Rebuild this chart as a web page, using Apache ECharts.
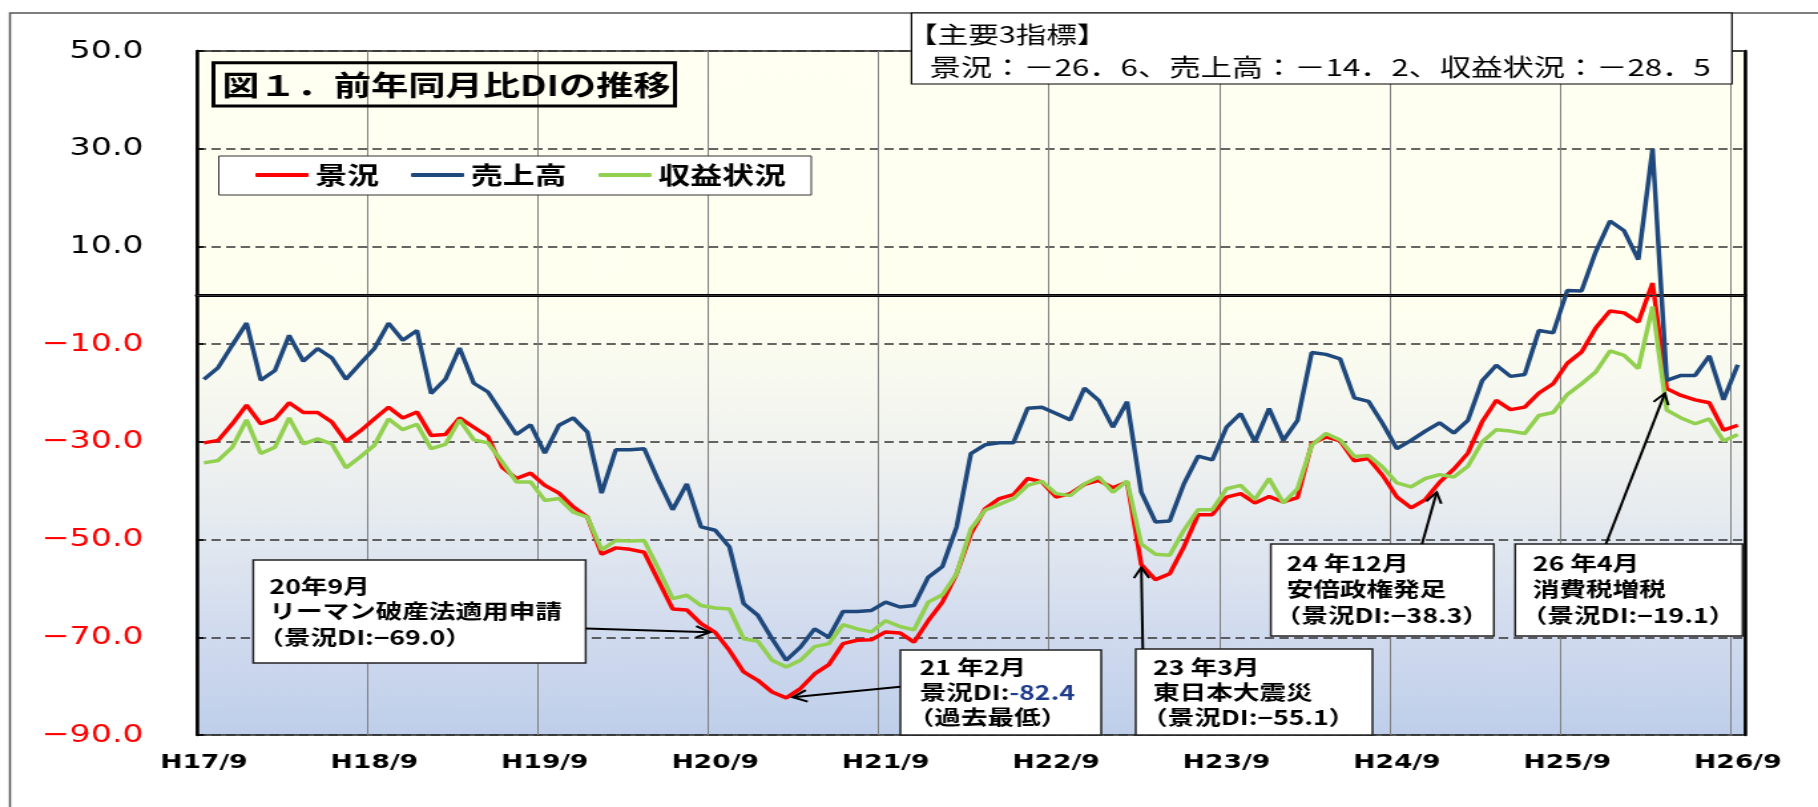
<!DOCTYPE html>
<html><head><meta charset="utf-8">
<script src="https://cdn.jsdelivr.net/npm/echarts@6/dist/echarts.min.js"></script>
<style>
html,body{margin:0;padding:0;background:#fff;overflow:hidden}
#wrap{width:1818px;height:807px;overflow:hidden;position:relative}
#main{width:1367px;height:807px;transform:scaleX(1.329919);transform-origin:0 0}
</style></head>
<body><div id="wrap"><div id="main"></div></div>
<script>
// ---- data ----
const categories = [];
for (let k = 0; k < 109; k++) { const mm = 8 + k; categories.push('H' + (17 + Math.floor(mm / 12)) + '/' + (mm % 12 + 1)); }
const xTickLabels = ['H17/9','H18/9','H19/9','H20/9','H21/9','H22/9','H23/9','H24/9','H25/9','H26/9'];
const yMin = -90, yMax = 50, yStep = 20;
const seriesNames = ['景況','売上高','収益状況'];
const keikyo = [-30.2,-29.7,-26.3,-22.5,-26.3,-25.3,-22.0,-24.0,-24.0,-25.9,-29.9,-27.8,
 -25.3,-22.9,-25.1,-23.9,-28.7,-28.5,-25.1,-27.0,-28.9,-35.2,-37.5,-36.4,
 -38.9,-40.5,-43.3,-45.4,-53.0,-51.7,-52.0,-52.6,-58.4,-64.2,-64.4,-67.2,
 -69.0,-72.7,-77.1,-78.8,-81.2,-82.4,-80.5,-77.5,-75.6,-71.3,-70.6,-70.5,
 -68.9,-69.1,-71.0,-66.6,-62.8,-57.0,-48.8,-43.7,-41.6,-40.8,-37.5,-38.2,
 -41.3,-40.6,-38.7,-37.9,-39.4,-38.2,-55.1,-58.2,-57.0,-51.5,-44.9,-44.9,
 -41.3,-40.6,-42.5,-41.2,-42.3,-41.4,-30.4,-29.0,-29.8,-33.9,-33.4,-36.9,
 -41.3,-43.5,-41.8,-38.3,-35.6,-32.3,-25.9,-21.5,-23.4,-22.9,-20.0,-18.1,
 -13.9,-11.6,-6.7,-3.2,-3.6,-5.5,2.5,-19.1,-20.5,-21.4,-22.0,-27.6,-26.6];
const uriage = [-17.2,-14.8,-10.2,-5.7,-17.4,-15.4,-8.2,-13.5,-10.9,-12.8,-17.2,-14.0,
 -10.9,-5.7,-9.2,-7.2,-20.1,-17.2,-10.8,-18.0,-19.8,-24.2,-28.5,-26.5,
 -32.3,-26.6,-25.1,-28.0,-40.5,-31.6,-31.6,-31.4,-37.9,-43.9,-38.6,-47.4,
 -48.1,-51.5,-63.1,-65.5,-70.3,-74.7,-72.0,-68.3,-70.0,-64.7,-64.7,-64.5,
 -62.8,-63.8,-63.5,-57.7,-55.5,-47.4,-32.4,-30.6,-30.2,-30.2,-23.1,-22.9,
 -24.2,-25.5,-19.0,-21.5,-27.0,-21.8,-40.3,-46.4,-46.2,-38.6,-32.9,-33.7,
 -27.0,-24.2,-30.0,-23.2,-29.7,-25.6,-11.7,-12.1,-13.0,-21.0,-21.7,-26.3,
 -31.4,-29.7,-27.8,-26.1,-28.2,-25.6,-17.5,-14.3,-16.6,-16.2,-7.2,-7.7,
 1.0,0.9,8.9,15.2,13.2,7.3,30.0,-17.4,-16.4,-16.4,-12.4,-21.4,-14.2];
const shueki = [-34.3,-33.8,-31.1,-25.5,-32.4,-31.1,-25.1,-30.4,-29.4,-30.4,-35.3,-33.1,
 -30.7,-25.3,-27.5,-26.4,-31.4,-30.5,-25.5,-29.6,-30.2,-34.1,-38.2,-38.2,
 -42.0,-41.6,-44.4,-45.4,-52.1,-50.2,-50.3,-50.2,-56.0,-62.1,-61.4,-63.5,
 -64.0,-64.2,-70.3,-70.8,-74.7,-76.1,-74.7,-71.9,-71.3,-67.4,-68.3,-68.9,
 -66.6,-67.8,-68.5,-62.8,-61.3,-57.0,-47.8,-44.0,-42.8,-41.6,-38.9,-38.1,
 -40.6,-41.0,-38.6,-37.2,-40.3,-38.0,-50.9,-53.0,-53.2,-48.1,-43.9,-43.9,
 -39.6,-38.9,-41.8,-37.5,-42.5,-39.6,-30.7,-28.3,-29.6,-33.0,-32.8,-35.2,
 -38.4,-39.2,-37.5,-36.7,-37.2,-35.0,-30.0,-27.5,-27.8,-28.3,-24.6,-24.0,
 -20.3,-18.1,-15.7,-11.4,-12.3,-15.0,-2.3,-23.5,-25.1,-26.3,-25.3,-29.8,-28.5];
const titleText = '図１．前年同月比DIの推移';
const infoLines = ['【主要3指標】', '景況：－26．6、売上高：－14．2、収益状況：－28．5'];
const notes = [
  {idx: 36, lines: ['20年9月', 'リーマン破産法適用申請', '（景況DI:−69.0）']},
  {idx: 41, lines: ['21 年2月', '景況DI:', '（過去最低）'], valueText: '-82.4'},
  {idx: 66, lines: ['23 年3月', '東日本大震災', '（景況DI:−55.1）']},
  {idx: 87, lines: ['24 年12月', '安倍政権発足', '（景況DI:−38.3）']},
  {idx: 103, lines: ['26 年4月', '消費税増税', '（景況DI:−19.1）']}
];
// ---- chart ----
const CJK = '"Noto Sans CJK JP", sans-serif';
const isTick = (i, v) => xTickLabels.indexOf(categories[i]) >= 0;
const chart = echarts.init(document.getElementById('main'), null, {renderer: 'canvas'});
const option = {
  animation: false,
  backgroundColor: '#ffffff',
  grid: {left: 148, right: 55, top: 51, bottom: 72, containLabel: false, show: true,
    borderColor: '#222', borderWidth: 1.5,
    backgroundColor: {type: 'linear', x: 0, y: 0, x2: 0, y2: 1, colorStops: [
      {offset: 0, color: '#FFFFF2'}, {offset: 0.38, color: '#FFFFF0'}, {offset: 0.571, color: '#F1F3EF'},
      {offset: 0.714, color: '#E2E8F0'}, {offset: 0.857, color: '#D0DAEE'}, {offset: 1, color: '#BECEEA'}]}},
  legend: {left: 192, top: 163, padding: 0, itemWidth: 40, itemHeight: 4, itemGap: 24, selectedMode: false, z: 10,
    icon: 'roundRect', data: seriesNames, textStyle: {fontFamily: CJK, fontSize: 24, fontWeight: 'bold', color: '#000'}},
  xAxis: {type: 'category', data: categories, boundaryGap: true,
    axisLine: {show: true, lineStyle: {color: '#000', width: 3}},
    axisTick: {show: false},
    axisLabel: {interval: isTick, margin: 18, color: '#000', fontFamily: 'DejaVu Sans', fontWeight: 'bold', fontSize: 20},
    splitLine: {show: true, interval: isTick, lineStyle: {color: '#808080', width: 1}}},
  yAxis: [
    {type: 'value', min: yMin, max: yMax, interval: yStep,
     axisLine: {show: true, lineStyle: {color: '#000', width: 2.5}},
     axisTick: {show: true, inside: true, length: 5, lineStyle: {color: '#000', width: 1.5}},
     axisLabel: {margin: 40, fontFamily: 'DejaVu Sans', fontSize: 25,
       formatter: v => (v < 0 ? '\u2212' : '') + Math.abs(v).toFixed(1),
       color: v => (parseFloat(v) < 0 ? '#FF0000' : '#000000')},
     splitLine: {show: true, lineStyle: {color: '#333', width: 1.5, type: [7, 4]}}},
    {type: 'value', position: 'right', min: yMin, max: yMax, interval: yStep,
     axisLine: {show: true, lineStyle: {color: '#000', width: 2.5}},
     axisTick: {show: false}, axisLabel: {show: false}, splitLine: {show: false}}
  ],
  series: [
    {name: seriesNames[0], type: 'line', data: keikyo, symbol: 'none', z: 3,
     lineStyle: {color: '#FF0000', width: 3.5}, itemStyle: {color: '#FF0000'},
     markLine: {silent: true, symbol: ['none', 'none'], label: {show: false},
       lineStyle: {color: '#333', type: 'solid', width: 1}, data: [{yAxis: 0}]}},
    {name: seriesNames[1], type: 'line', data: uriage, symbol: 'none', z: 3,
     lineStyle: {color: '#1F497D', width: 3.5}, itemStyle: {color: '#1F497D'}},
    {name: seriesNames[2], type: 'line', data: shueki, symbol: 'none', z: 3,
     lineStyle: {color: '#92D050', width: 3.5}, itemStyle: {color: '#92D050'}}
  ]
};
chart.setOption(option);

// ---- annotations ----
function T(x, y, text, size, weight, extra) {
  return {type: 'text', z: 20, style: Object.assign({text: text, x: x, y: y, fill: '#000',
    font: weight + ' ' + size + 'px ' + CJK, fontSize: size, fontWeight: weight, fontFamily: CJK,
    align: 'left', verticalAlign: 'middle', textAlign: 'left', textVerticalAlign: 'middle'}, extra || {})};
}
function R(x, y, w, h, stroke, lw, fill, z) {
  return {type: 'rect', z: z || 15, shape: {x: x, y: y, width: w, height: h},
    style: {fill: fill, stroke: stroke, lineWidth: lw}};
}
function arrow(tail, tip, off) {
  const dx = tip[0] - tail[0], dy = tip[1] - tail[1], L = Math.hypot(dx, dy);
  const ux = dx / L, uy = dy / L, t = [tip[0] - ux * off, tip[1] - uy * off];
  const a = 12, c = Math.cos(0.5), s = Math.sin(0.5);
  const p1 = [t[0] - a * (ux * c - uy * s), t[1] - a * (uy * c + ux * s)];
  const p2 = [t[0] - a * (ux * c + uy * s), t[1] - a * (uy * c - ux * s)];
  return [{type: 'line', z: 21, shape: {x1: tail[0], y1: tail[1], x2: t[0], y2: t[1]}, style: {stroke: '#000', lineWidth: 2}},
          {type: 'polyline', z: 21, shape: {points: [p1, t, p2]}, style: {stroke: '#000', lineWidth: 2, fill: null}}];
}
const px = (i) => chart.convertToPixel({seriesIndex: 0}, [i, keikyo[i]]);
const boxes = [
  {x: 190.4, y: 560, w: 250, h: 103, tx: 202.6, ly: [586, 611.5, 637], tail: [440.4, 628.5], off: 4},
  {x: 677, y: 650, w: 151, h: 85, tx: 691.5, ly: [667, 692.5, 717], tail: [677, 686.7], off: 5},
  {x: 854, y: 649, w: 178, h: 86, tx: 867, ly: [667, 692, 717], tail: [859.3, 649], off: 3},
  {x: 955.6, y: 544, w: 167.7, h: 92, tx: 967.4, ly: [563.5, 589.5, 615], tail: [1069.2, 544], off: 10},
  {x: 1139.3, y: 544, w: 171, h: 92, tx: 1152.6, ly: [563.5, 589.5, 615], tail: [1207.5, 544], off: 5}
];
const g = [];
g.push(R(7.5, 13, 1420, 850, '#555', 1.5, null, 1));
g.push(R(685.4, 13, 616.9, 71, '#000', 1.2, '#fff', 15));
g.push(T(682, 34, infoLines[0], 23, 'normal'));
g.push(T(699, 67, infoLines[1], 23.5, 'normal'));
g.push(R(160.5, 62.7, 347, 43.3, '#000', 3, null, 15));
g.push(T(167, 85, titleText, 28, 'bold'));
g.push(R(164.5, 156, 445.5, 39, '#333', 1, '#fff', 3));
notes.forEach((n, k) => {
  const b = boxes[k];
  g.push(R(b.x, b.y, b.w, b.h, '#222', 1.5, '#fff', 15));
  n.lines.forEach((ln, j) => {
    const sx = ln.charAt(0) === '（' ? b.tx - 9 : b.tx;
    if (j === 1 && n.valueText) {
      g.push(T(sx, b.ly[j], '{a|' + ln + '}{b|' + n.valueText + '}', 20, 'bold',
        {rich: {a: {fill: '#000', color: '#000', fontSize: 20, fontWeight: 'bold', fontFamily: CJK},
                b: {fill: '#1F3B8C', color: '#1F3B8C', fontSize: 20, fontWeight: 'bold', fontFamily: CJK}}}));
    } else {
      g.push(T(sx, b.ly[j], ln, 20, 'bold'));
    }
  });
  arrow(b.tail, px(n.idx), b.off).forEach(e => g.push(e));
});
chart.setOption({graphic: {elements: g}});
</script></body></html>
